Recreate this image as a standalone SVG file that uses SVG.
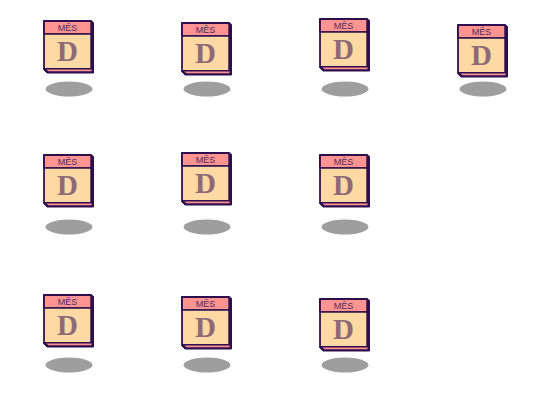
<svg xmlns="http://www.w3.org/2000/svg" width="552" height="414" viewBox="0 0 552 414">
<style>
.back{fill:#2d0f4f;stroke:#2d0f4f;stroke-width:1;stroke-linejoin:round}
.page2{fill:#ff9490}
.body{fill:#ffd9a3;stroke:#2d0f4f;stroke-width:1.4}
.head{fill:#ff9490;stroke:#2d0f4f;stroke-width:1.4}
.m{font-family:"Liberation Sans",Arial,sans-serif;font-size:9px;fill:#4a2a63;text-anchor:middle}
.d{font-family:"Liberation Serif","Times New Roman",serif;font-weight:bold;font-size:29px;fill:#8c6a78;text-anchor:middle}
.s{fill:#9e9e9e}
</style>
<defs>
<g id="cal">
<path class="back" d="M0.5 0.5H48L50.5 2.5V53H4L0.5 49.5Z"/>
<path class="page2" d="M3 49H48.5V51.2H5.5Z"/>
<path class="body" d="M0.7 14H48V49H0.7Z" style="stroke:none"/>
<path class="head" d="M1.2 1.2H48V14H1.2Z"/>
<path d="M1.2 14H48V48.8H1.2Z" class="body"/>
</g>
</defs>
<g id="connectors"></g>
<g id="n1"><ellipse class="s" cx="69" cy="89" rx="23.5" ry="7.5"/><use href="#cal" x="43" y="20"/><text class="m" x="67.5" y="31">MÊS</text><text class="d" x="67.5" y="61">D</text></g>
<g id="n2"><ellipse class="s" cx="207" cy="89" rx="23.5" ry="7.5"/><use href="#cal" x="181" y="22"/><text class="m" x="205.5" y="33">MÊS</text><text class="d" x="205.5" y="63">D</text></g>
<g id="n3"><ellipse class="s" cx="345" cy="89" rx="23.5" ry="7.5"/><use href="#cal" x="319" y="18"/><text class="m" x="343.5" y="29">MÊS</text><text class="d" x="343.5" y="59">D</text></g>
<g id="n4"><ellipse class="s" cx="483" cy="89" rx="23.5" ry="7.5"/><use href="#cal" x="457" y="24"/><text class="m" x="481.5" y="35">MÊS</text><text class="d" x="481.5" y="65">D</text></g>
<g id="n5"><ellipse class="s" cx="69" cy="227" rx="23.5" ry="7.5"/><use href="#cal" x="43" y="154"/><text class="m" x="67.5" y="165">MÊS</text><text class="d" x="67.5" y="195">D</text></g>
<g id="n6"><ellipse class="s" cx="207" cy="227" rx="23.5" ry="7.5"/><use href="#cal" x="181" y="152"/><text class="m" x="205.5" y="163">MÊS</text><text class="d" x="205.5" y="193">D</text></g>
<g id="n7"><ellipse class="s" cx="345" cy="227" rx="23.5" ry="7.5"/><use href="#cal" x="319" y="154"/><text class="m" x="343.5" y="165">MÊS</text><text class="d" x="343.5" y="195">D</text></g>
<g id="n8"><ellipse class="s" cx="69" cy="365" rx="23.5" ry="7.5"/><use href="#cal" x="43" y="294"/><text class="m" x="67.5" y="305">MÊS</text><text class="d" x="67.5" y="335">D</text></g>
<g id="n9"><ellipse class="s" cx="207" cy="365" rx="23.5" ry="7.5"/><use href="#cal" x="181" y="296"/><text class="m" x="205.5" y="307">MÊS</text><text class="d" x="205.5" y="337">D</text></g>
<g id="n10"><ellipse class="s" cx="345" cy="365" rx="23.5" ry="7.5"/><use href="#cal" x="319" y="298"/><text class="m" x="343.5" y="309">MÊS</text><text class="d" x="343.5" y="339">D</text></g>
</svg>
